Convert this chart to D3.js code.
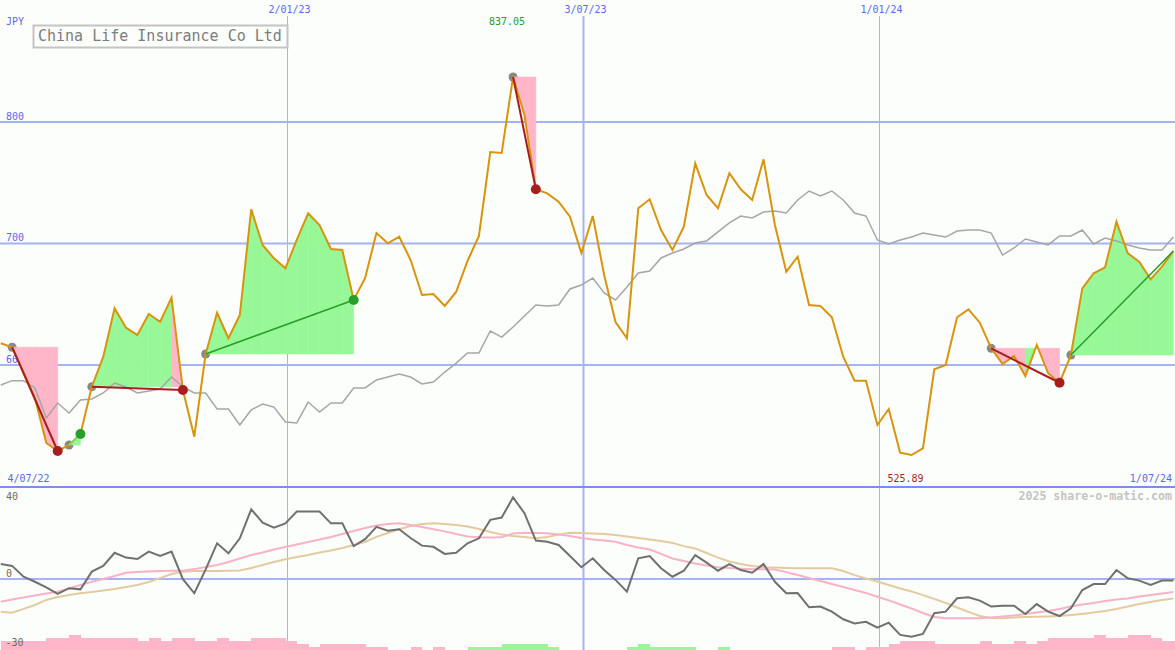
<!DOCTYPE html>
<html><head><meta charset="utf-8">
<script src="https://cdn.jsdelivr.net/npm/d3@7"></script>
<style>
html,body{margin:0;padding:0;background:#fcfefb;}
svg{display:block;}
text{font-family:"DejaVu Sans Mono",monospace;}
</style></head><body>
<svg id="chart" width="1175" height="650"></svg>
<script>
// ---- data ----
const firstWeek = "2022-07-10";
const axisStart = "2022-07-04";
const axisEnd = "2024-07-01";
const dateTicks = ["2023-01-02", "2023-07-03", "2024-01-01"];
const priceTicks = [600, 700, 800];
const oscTicks = [40, 0, -30];
const title = "China Life Insurance Co Ltd";
const currency = "JPY";
const credit = "2025 share-o-matic.com";

const price = [617.9, 614.6, 594.2, 572.8, 535.8, 529.2, 534.2, 543.2, 582.1, 606.6,
 646.7, 630.7, 624.7, 642.0, 635.6, 655.4, 579.4, 541.0, 609.1, 643.0,
 622.0, 641.2, 728.1, 698.8, 687.8, 679.6, 702.9, 724.9, 715.2, 695.5,
 694.7, 653.5, 671.4, 708.6, 700.2, 705.6, 686.4, 657.6, 658.4, 648.6,
 660.1, 685.6, 706.2, 775.3, 774.5, 837.05, 805.8, 744.6, 741.3, 734.4,
 722.1, 692.2, 722.6, 674.1, 635.4, 622.0, 729.0, 736.4, 711.1, 694.7,
 713.8, 766.0, 739.9, 729.0, 757.8, 744.6, 735.8, 769.3, 715.2, 676.8,
 689.1, 649.4, 648.6, 639.3, 606.8, 587.1, 587.1, 550.6, 563.8, 527.8,
 525.89, 531.4, 596.5, 600.0, 639.3, 645.8, 634.8, 613.7, 600.8, 607.4,
 590.9, 616.5, 593.2, 585.4, 608.2, 663.1, 675.5, 680.4, 717.9, 691.9,
 685.0, 670.5, 680.9, 693.8];

const relative = [583.5, 587.1, 587.1, 581.1, 556.4, 568.7, 560.5, 571.2, 572.0, 577.0,
 585.2, 581.9, 577.0, 578.6, 580.2, 590.1, 581.9, 577.0, 577.0, 563.8,
 563.8, 550.6, 563.0, 567.9, 565.4, 553.1, 552.3, 569.5, 561.3, 568.7,
 568.7, 581.1, 581.1, 587.7, 590.1, 592.6, 590.1, 584.4, 586.0, 594.2,
 601.6, 609.9, 609.9, 628.0, 623.0, 631.3, 640.3, 649.4, 648.6, 649.4,
 662.6, 665.8, 671.6, 659.3, 653.5, 664.2, 675.7, 677.4, 688.1, 692.2,
 695.5, 700.4, 702.1, 709.5, 716.9, 722.6, 721.0, 725.9, 726.7, 725.1,
 735.8, 743.2, 739.1, 743.2, 735.8, 725.1, 722.6, 702.9, 699.6, 702.9,
 705.3, 708.6, 707.0, 705.3, 710.3, 711.1, 711.1, 708.6, 690.5, 696.3,
 703.7, 701.2, 698.8, 706.2, 706.2, 711.1, 699.6, 704.5, 702.1, 698.8,
 696.3, 694.7, 694.7, 705.3];

const oscillator = [6.5, 5.7, 1.0, -1.2, -3.6, -6.5, -4.0, -4.5, 3.2, 5.7,
 11.4, 9.3, 8.7, 11.9, 10.0, 11.9, -0.1, -6.2, 4.2, 15.5,
 11.2, 17.7, 30.3, 24.5, 22.3, 24.2, 29.3, 29.3, 29.3, 24.2,
 24.2, 14.3, 17.3, 22.7, 21.0, 21.6, 17.8, 14.5, 14.0, 10.9,
 11.4, 15.5, 17.7, 25.7, 26.7, 35.5, 28.6, 16.7, 16.2, 14.8,
 10.0, 5.1, 9.0, 3.9, -0.4, -5.5, 9.0, 10.0, 4.7, 1.0,
 3.6, 10.4, 7.1, 3.6, 6.5, 3.9, 2.7, 6.5, -1.2, -6.2,
 -6.1, -12.3, -12.0, -14.2, -17.5, -19.3, -18.6, -21.2, -19.0, -24.3,
 -25.1, -23.9, -14.9, -14.2, -8.4, -7.9, -9.4, -12.0, -11.6, -11.6,
 -15.2, -10.9, -14.2, -16.1, -12.7, -4.8, -2.2, -2.2, 3.9, 0.3,
 -0.7, -2.6, -0.7, -0.7];

const avgFast = [-9.9, -8.9, -8.0, -7.2, -6.3, -5.5, -4.1, -2.6, -1.2, 0.0,
 1.3, 2.7, 3.0, 3.3, 3.5, 3.6, 3.6, 4.3, 5.2, 6.1,
 7.4, 8.9, 10.4, 11.5, 12.8, 13.9, 15.0, 16.1, 17.2, 18.3,
 19.6, 20.9, 22.2, 23.3, 23.9, 24.2, 23.5, 22.6, 21.6, 20.7,
 19.6, 18.5, 18.1, 18.0, 18.1, 19.8, 20.1, 20.0, 19.9, 19.3,
 18.7, 17.8, 17.2, 16.7, 16.2, 14.8, 13.7, 12.8, 10.9, 8.9,
 7.8, 6.7, 5.9, 5.1, 4.8, 4.5, 4.2, 4.2, 4.1, 3.0,
 1.7, 0.4, -0.9, -2.2, -3.5, -4.8, -6.1, -7.7, -9.3, -11.1,
 -12.8, -14.8, -16.5, -17.1, -17.1, -17.1, -17.1, -16.7, -16.3, -15.9,
 -15.2, -14.6, -13.9, -13.0, -12.0, -11.1, -10.4, -9.6, -8.9, -8.5,
 -7.6, -7.0, -6.3, -5.7];

const avgSlow = [-14.2, -14.7, -13.0, -11.3, -9.1, -7.8, -7.0, -6.2, -5.7, -5.0,
 -4.3, -3.5, -2.6, -1.3, 0.4, 2.2, 3.2, 3.5, 3.5, 3.5,
 3.6, 3.7, 4.8, 6.1, 7.4, 8.6, 9.6, 10.4, 11.5, 12.4,
 13.5, 14.8, 16.1, 18.3, 20.0, 21.6, 23.0, 23.9, 24.2, 23.9,
 23.5, 22.8, 21.7, 20.4, 19.3, 18.7, 18.3, 17.7, 18.3, 19.3,
 20.1, 20.0, 19.8, 19.6, 19.1, 18.5, 17.8, 17.2, 16.5, 15.7,
 14.3, 13.3, 11.3, 9.3, 7.6, 6.5, 5.7, 5.1, 5.0, 4.8,
 4.7, 4.7, 4.7, 4.7, 3.5, 1.7, 0.2, -1.1, -2.6, -4.1,
 -5.4, -7.0, -8.7, -10.4, -12.4, -14.3, -16.1, -17.0, -17.1, -16.7,
 -16.5, -16.4, -16.3, -16.1, -15.7, -15.2, -14.6, -13.9, -13.0, -12.0,
 -10.9, -10.0, -9.1, -8.5];

const barLevel = [-3, -3, -3, -3, -4, -4, -5, -4, -4, -4,
 -4, -4, -3, -4, -3, -4, -4, -3, -3, -4,
 -3, -3, -4, -4, -4, -3, -2, -1, -2, -2,
 -2, -2, -1, -1, 0, 0, -1, 0, -1, 0,
 0, 1, 1, 1, 2, 2, 2, 2, 1, 0,
 0, 0, 0, 0, 0, 1, 2, 1, 1, 1,
 1, 0, 0, 1, 0, 0, 0, 0, 0, 0,
 0, 0, 0, -1, -1, 0, -1, -1, -2, -3,
 -3, -3, -2, -2, -2, -2, -3, -2, -2, -3,
 -2, -3, -4, -4, -4, -4, -5, -4, -4, -5,
 -5, -4, -3, -3];

const tradeEntry = [1, 6, 8, 18, 45, 87, 94];
const tradeExit = [5, 7, 16, 31, 47, 93, 103];
const tradeOutcome = ["loss", "small", "loss", "gain", "loss", "loss", "open"];

// ---- scales ----
const parse = d3.utcParse("%Y-%m-%d");
const fmtDate = d3.utcFormat("%-d/%m/%y");
const t0 = parse(firstWeek);
const dates = price.map((_, i) => d3.utcDay.offset(t0, 7 * i));
const W = 1175, H = 650;
const x = d3.scaleUtc().domain([parse(axisStart), parse(axisEnd)]).range([-9, 1175]);
const y = d3.scaleLinear().domain([500, 900]).range([486.5, 0.5]);
const yo = d3.scaleLinear().domain([-30, 40]).range([648, 487]);
const hb = d3.scaleLinear().domain([0, 5]).range([0, 15]);

const C = {
  bg: "#fcfefb", grid: "#a3b3f3", sep: "#7d8cf0", label: "#5a68ee",
  orange: "#d8940c", gray: "#a6a6a6", pink: "#ffb6c8", green: "#98f898",
  red: "#a81e1e", dkgreen: "#26a026", ltgreen: "#7edc7e", marker: "#888888",
  osc: "#707070", fast: "#f8b2c8", slow: "#e3cb9f"
};

const svg = d3.select("#chart");
svg.append("rect").attr("width", W).attr("height", H).attr("fill", C.bg);

// grid
svg.append("g").selectAll("line").data(priceTicks).join("line")
  .attr("x1", 0).attr("x2", W).attr("y1", d => y(d)).attr("y2", d => y(d))
  .attr("stroke", C.grid).attr("stroke-width", 2);
svg.append("g").selectAll("line").data(dateTicks).join("line")
  .attr("x1", d => Math.round(x(parse(d))) + 0.5).attr("x2", d => Math.round(x(parse(d))) + 0.5)
  .attr("y1", 16).attr("y2", H)
  .attr("stroke", C.grid).attr("stroke-width", (d, i) => i === 1 ? 2 : 1);
svg.append("line").attr("x1", 0).attr("x2", W).attr("y1", yo(0)).attr("y2", yo(0))
  .attr("stroke", C.grid).attr("stroke-width", 2);
svg.append("line").attr("x1", 0).attr("x2", W).attr("y1", yo(40)).attr("y2", yo(40))
  .attr("stroke", C.sep).attr("stroke-width", 2);

// bars
svg.append("g").attr("shape-rendering", "crispEdges").selectAll("rect")
  .data(barLevel.map((v, i) => ({v, i})).filter(d => d.v !== 0)).join("rect")
  .attr("x", d => x(dates[d.i]))
  .attr("width", d => x(d3.utcDay.offset(dates[d.i], 7)) - x(dates[d.i]) + 0.5)
  .attr("y", d => H - hb(Math.abs(d.v)))
  .attr("height", d => hb(Math.abs(d.v)))
  .attr("fill", d => d.v < 0 ? C.pink : C.green);

// labels
const lab = svg.append("g").attr("font-size", 10);
lab.append("text").attr("x", 6).attr("y", 24.5).attr("fill", C.label).text(currency);
lab.selectAll(".pt").data(priceTicks).join("text").attr("class", "pt")
  .attr("x", 6).attr("y", d => y(d) - 2.5).attr("fill", C.label).text(d => d);
lab.selectAll(".dt").data(dateTicks).join("text").attr("class", "dt")
  .attr("x", d => x(parse(d)) - 18.5).attr("y", 12.8).attr("fill", C.label)
  .text(d => fmtDate(parse(d)));
lab.append("text").attr("x", 7.5).attr("y", 482).attr("fill", C.label).text(fmtDate(parse(axisStart)));
lab.append("text").attr("x", 1172).attr("y", 482).attr("text-anchor", "end").attr("fill", C.label).text(fmtDate(parse(axisEnd)));
lab.selectAll(".ot").data(oscTicks).join("text").attr("class", "ot")
  .attr("x", d => d < 0 ? 5.5 : 6).attr("y", d => d === 40 ? 499.8 : yo(d) - 2.5)
  .attr("fill", "#6a6a6a").text(d => d);

// entry markers (under fills)
svg.append("g").selectAll("circle").data(tradeEntry).join("circle")
  .attr("cx", d => x(dates[d])).attr("cy", d => y(price[d])).attr("r", 4.5)
  .attr("fill", C.marker);

// trade fills
const fills = [];
tradeEntry.forEach((e, k) => {
  for (let i = e; i < tradeExit[k]; i++) fills.push({e, i});
});
svg.append("g").selectAll("path").data(fills).join("path")
  .attr("d", d => {
    const ye = y(price[d.e]);
    const x1 = x(dates[d.i]), x2 = x(dates[d.i + 1]);
    return `M${x1},${ye}L${x1},${y(price[d.i])}L${x2},${y(price[d.i + 1])}L${x2},${ye}Z`;
  })
  .attr("fill", d => price[d.i + 1] >= price[d.e] ? C.green : C.pink)
  .attr("stroke", d => price[d.i + 1] >= price[d.e] ? C.green : C.pink)
  .attr("stroke-width", 0.6);

// relative line
svg.append("path").datum(relative)
  .attr("d", d3.line().x((d, i) => x(dates[i])).y(d => y(d)))
  .attr("fill", "none").attr("stroke", C.gray).attr("stroke-width", 1.5);
// price line
svg.append("path").datum(price)
  .attr("d", d3.line().x((d, i) => x(dates[i])).y(d => y(d)))
  .attr("fill", "none").attr("stroke", C.orange).attr("stroke-width", 2).attr("stroke-linejoin", "miter");

// trade lines
const tradeColor = o => o === "loss" ? C.red : o === "small" ? C.ltgreen : C.dkgreen;
svg.append("g").selectAll("line").data(tradeEntry).join("line")
  .attr("x1", d => x(dates[d])).attr("y1", d => y(price[d]))
  .attr("x2", (d, k) => x(dates[tradeExit[k]])).attr("y2", (d, k) => y(price[tradeExit[k]]))
  .attr("stroke", (d, k) => tradeColor(tradeOutcome[k]))
  .attr("stroke-width", (d, k) => tradeOutcome[k] === "loss" ? 2 : 1.5);

// exit markers
svg.append("g").selectAll("circle")
  .data(tradeExit.map((e, k) => ({e, o: tradeOutcome[k]})).filter(d => d.o !== "open")).join("circle")
  .attr("cx", d => x(dates[d.e])).attr("cy", d => y(price[d.e])).attr("r", 5)
  .attr("fill", d => d.o === "loss" ? C.red : C.dkgreen);

// extremes
const iMax = d3.maxIndex(price), iMin = d3.minIndex(price);
svg.append("text").attr("x", x(dates[iMax]) - 6).attr("y", 24.5).attr("text-anchor", "middle")
  .attr("font-size", 10).attr("fill", C.dkgreen).text(d3.format(".2f")(price[iMax]));
svg.append("text").attr("x", x(dates[iMin]) - 6).attr("y", 482).attr("text-anchor", "middle")
  .attr("font-size", 10).attr("fill", C.red).text(d3.format(".2f")(price[iMin]));

// title box
svg.append("rect").attr("x", 33.5).attr("y", 25.5).attr("width", 254).attr("height", 22)
  .attr("fill", C.bg).attr("stroke", "#c4c4c4").attr("stroke-width", 2);
svg.append("text").attr("x", 38).attr("y", 41).attr("font-size", 15).attr("fill", "#7c7c7c").text(title);

// oscillator panel lines
const lo = d3.line().x((d, i) => x(dates[i])).y(d => yo(d));
svg.append("path").datum(avgSlow).attr("d", lo).attr("fill", "none").attr("stroke", C.slow).attr("stroke-width", 2);
svg.append("path").datum(avgFast).attr("d", lo).attr("fill", "none").attr("stroke", C.fast).attr("stroke-width", 2);
svg.append("path").datum(oscillator).attr("d", lo).attr("fill", "none").attr("stroke", C.osc).attr("stroke-width", 2);

svg.append("text").attr("x", 1172).attr("y", 500).attr("text-anchor", "end")
  .attr("font-size", 11.6).attr("font-weight", "bold").attr("fill", "#c4c4c4").text(credit);
</script>
</body></html>
